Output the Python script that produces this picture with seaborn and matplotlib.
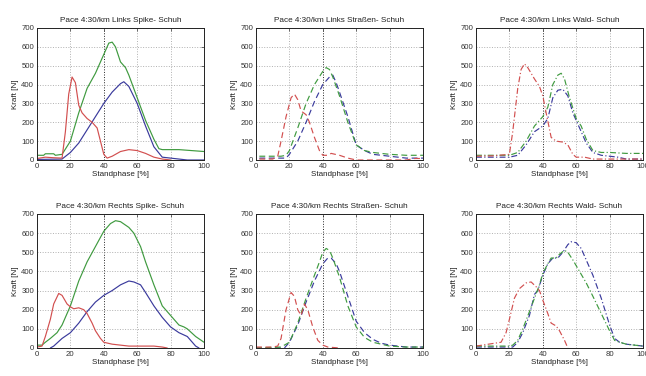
import matplotlib
matplotlib.use("Agg")
import matplotlib.pyplot as plt
import seaborn as sns
import pandas as pd

# ---------------- data ----------------
titles = ["Pace 4:30/km Links Spike- Schuh", "Pace 4:30/km Links Straßen- Schuh",
          "Pace 4:30/km Links Wald- Schuh", "Pace 4:30/km Rechts Spike- Schuh",
          "Pace 4:30/km Rechts Straßen- Schuh", "Pace 4:30/km Rechts Wald- Schuh"]
x_ticks = [0, 20, 40, 60, 80, 100]
y_ticks = [0, 100, 200, 300, 400, 500, 600, 700]
x_label = "Standphase [%]"
y_label = "Kraft [N]"

# Links Spike
ls_red_x = [0, 5, 10, 15, 17, 19, 21, 23, 25, 27, 30, 33, 36, 38, 40, 42, 45, 50, 55, 60, 65, 70, 75, 80]
ls_red_y = [8, 15, 12, 10, 150, 350, 440, 410, 290, 250, 220, 200, 170, 100, 30, 10, 20, 45, 55, 50, 35, 15, 5, 0]
ls_green_x = [0, 4, 5, 10, 11, 15, 20, 25, 30, 35, 40, 43, 45, 47, 50, 53, 55, 60, 65, 70, 73, 75, 85, 100]
ls_green_y = [25, 25, 33, 33, 25, 30, 100, 250, 380, 460, 560, 620, 625, 600, 520, 490, 450, 330, 210, 110, 60, 55, 55, 45]
ls_blue_x = [0, 15, 20, 25, 30, 35, 40, 45, 50, 52, 55, 60, 65, 70, 75, 80, 85, 90, 100]
ls_blue_y = [3, 5, 40, 90, 160, 230, 300, 360, 405, 415, 390, 300, 180, 70, 15, 10, 5, 0, 0]

# Links Strassen
lr_red_x = [2, 10, 13, 15, 18, 21, 23, 25, 27, 30, 32, 35, 38, 40, 43, 45, 50, 55, 60, 90, 95, 100]
lr_red_y = [5, 5, 20, 100, 230, 330, 350, 320, 260, 240, 200, 120, 50, 25, 25, 35, 25, 10, 0, 0, 8, 8]
lr_green_x = [2, 15, 18, 20, 25, 30, 35, 40, 42, 44, 46, 50, 55, 60, 65, 70, 80, 90, 100]
lr_green_y = [20, 20, 25, 50, 170, 300, 400, 470, 490, 480, 440, 340, 200, 80, 50, 40, 30, 25, 25]
lr_blue_x = [2, 18, 20, 25, 30, 35, 40, 44, 46, 48, 50, 55, 60, 65, 70, 80, 90, 100]
lr_blue_y = [10, 10, 30, 100, 200, 310, 400, 440, 450, 410, 360, 230, 80, 50, 30, 20, 10, 10]

# Links Wald
lw_red_x = [0, 10, 20, 22, 25, 27, 29, 31, 35, 38, 40, 42, 45, 48, 52, 55, 58, 60, 65, 70, 100]
lw_red_y = [20, 22, 30, 150, 380, 480, 510, 490, 430, 390, 340, 250, 120, 100, 95, 80, 30, 15, 15, 5, 5]
lw_green_x = [0, 20, 25, 30, 35, 38, 40, 43, 46, 49, 51, 53, 56, 60, 63, 66, 70, 75, 80, 90, 100]
lw_green_y = [25, 25, 40, 100, 180, 210, 230, 280, 400, 450, 460, 430, 330, 220, 180, 110, 50, 40, 40, 35, 35]
lw_blue_x = [0, 20, 25, 30, 35, 40, 43, 46, 49, 52, 55, 58, 62, 66, 70, 75, 80, 85, 90, 100]
lw_blue_y = [15, 15, 25, 80, 150, 180, 220, 330, 370, 375, 340, 250, 170, 90, 40, 25, 20, 15, 5, 5]

# Rechts Spike
rs_red_x = [0, 3, 5, 8, 10, 13, 15, 18, 20, 22, 25, 28, 30, 33, 35, 38, 40, 45, 50, 55, 70, 75, 78]
rs_red_y = [5, 10, 60, 150, 230, 285, 275, 230, 215, 205, 210, 200, 180, 130, 90, 50, 30, 20, 15, 10, 10, 5, 0]
rs_green_x = [0, 3, 5, 8, 12, 15, 20, 25, 30, 35, 40, 44, 47, 50, 55, 58, 62, 65, 70, 75, 80, 85, 88, 90, 95, 100]
rs_green_y = [15, 15, 30, 50, 80, 120, 220, 350, 450, 530, 610, 650, 665, 660, 630, 600, 530, 450, 330, 220, 170, 120, 110, 100, 60, 30]
rs_blue_x = [8, 10, 15, 20, 25, 30, 35, 40, 45, 50, 55, 58, 62, 65, 70, 75, 80, 85, 90, 95, 97]
rs_blue_y = [0, 10, 50, 80, 130, 190, 240, 275, 300, 330, 350, 345, 330, 290, 220, 160, 110, 80, 60, 10, 0]

# Rechts Strassen
rr_red_x = [0, 10, 13, 15, 18, 21, 23, 25, 27, 29, 31, 34, 37, 40, 43, 50]
rr_red_y = [5, 5, 10, 50, 200, 290, 270, 200, 170, 230, 200, 110, 40, 15, 5, 0]
rr_green_x = [0, 15, 20, 25, 30, 35, 38, 40, 42, 44, 46, 50, 55, 60, 65, 70, 80, 90, 100]
rr_green_y = [0, 5, 30, 130, 260, 380, 450, 500, 520, 510, 470, 370, 220, 110, 55, 30, 10, 5, 5]
rr_blue_x = [0, 17, 20, 25, 30, 35, 40, 43, 45, 48, 50, 55, 60, 65, 70, 75, 80, 90, 100]
rr_blue_y = [0, 0, 30, 120, 240, 350, 440, 470, 470, 440, 400, 270, 140, 80, 45, 25, 15, 5, 5]

# Rechts Wald
rw_red_x = [0, 15, 18, 20, 23, 26, 30, 33, 36, 38, 40, 43, 45, 48, 50, 53, 55]
rw_red_y = [10, 30, 80, 150, 260, 310, 340, 345, 320, 300, 250, 180, 130, 115, 90, 40, 0]
rw_green_x = [0, 20, 22, 25, 28, 32, 35, 38, 40, 43, 45, 48, 50, 53, 55, 58, 62, 66, 70, 75, 80, 83, 86, 90, 95, 100]
rw_green_y = [10, 10, 15, 40, 100, 190, 260, 330, 390, 440, 470, 470, 490, 510, 500, 460, 400, 340, 270, 180, 90, 40, 30, 20, 15, 10]
rw_blue_x = [0, 22, 25, 28, 32, 35, 37, 40, 43, 46, 49, 52, 55, 57, 60, 63, 66, 70, 75, 80, 83, 86, 90, 100]
rw_blue_y = [5, 5, 30, 80, 170, 280, 300, 380, 440, 470, 470, 500, 540, 555, 550, 520, 460, 380, 260, 120, 50, 30, 20, 10]

panels = [
    (ls_red_x, ls_red_y, ls_green_x, ls_green_y, ls_blue_x, ls_blue_y),
    (lr_red_x, lr_red_y, lr_green_x, lr_green_y, lr_blue_x, lr_blue_y),
    (lw_red_x, lw_red_y, lw_green_x, lw_green_y, lw_blue_x, lw_blue_y),
    (rs_red_x, rs_red_y, rs_green_x, rs_green_y, rs_blue_x, rs_blue_y),
    (rr_red_x, rr_red_y, rr_green_x, rr_green_y, rr_blue_x, rr_blue_y),
    (rw_red_x, rw_red_y, rw_green_x, rw_green_y, rw_blue_x, rw_blue_y),
]

# ---------------- style ----------------
sns.set_style("white")
plt.rcParams["font.family"] = ["Liberation Sans", "DejaVu Sans"]
plt.rcParams["font.size"] = 5.5

colors = {"r": "#d24f4f", "g": "#3f9a3f", "b": "#3a3a9c"}
styles = ["-", (0, (5, 3)), (0, (5, 2, 1, 2))]

fig = plt.figure(figsize=(6.46, 3.76), dpi=100)
lefts = [37 / 646, 256 / 646, 476 / 646]
width = 167 / 646
bottoms = [1 - 160 / 376, 1 - 348 / 376]
heights = [132 / 376, 134 / 376]

for i, (title, data) in enumerate(zip(titles, panels)):
    row, col = divmod(i, 3)
    ax = fig.add_axes([lefts[col], bottoms[row], width, heights[row]])
    ls = styles[col]
    rx, ry, gx, gy, bx, by = data
    for xs, ys, c in [(bx, by, "b"), (gx, gy, "g"), (rx, ry, "r")]:
        df = pd.DataFrame({"x": xs, "y": ys})
        sns.lineplot(data=df, x="x", y="y", ax=ax, color=colors[c],
                     linestyle=ls, linewidth=0.85, estimator=None, sort=False)
    ax.set_xlim(0, 100)
    ax.set_ylim(0, 700)
    ax.set_xticks(x_ticks)
    ax.set_yticks(y_ticks)
    ax.grid(True, linestyle=":", color="#b0b0b0", linewidth=0.7)
    ax.get_xgridlines()[2].set_color("#222222")
    ax.tick_params(direction="in", top=True, right=True, length=2, width=0.5,
                   labelsize=5.6, pad=2, colors="#333333")
    for s in ax.spines.values():
        s.set_linewidth(0.7)
        s.set_color("#222222")
    ax.set_title(title, fontsize=5.9, pad=4, color="#222222")
    ax.set_xlabel(x_label, fontsize=5.8, labelpad=1, color="#222222")
    ax.set_ylabel(y_label, fontsize=5.8, labelpad=2, color="#222222")

fig.savefig("out.png", dpi=100)
